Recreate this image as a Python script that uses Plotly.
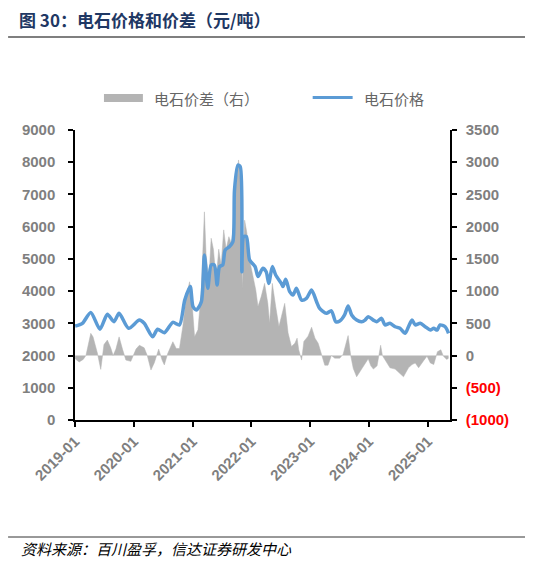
import plotly.graph_objects as go

# 电石价格 (元/吨, left axis)
price_dates = [
    "2019-01-02", "2019-02-16", "2019-04-09", "2019-06-05", "2019-07-21", "2019-08-31",
    "2019-10-02", "2019-11-30", "2020-02-05", "2020-03-06", "2020-04-27", "2020-05-28",
    "2020-07-09", "2020-08-31", "2020-10-11", "2020-11-13", "2020-12-17", "2021-01-03",
    "2021-01-24", "2021-02-24", "2021-03-15", "2021-04-05", "2021-04-26", "2021-05-16",
    "2021-06-02", "2021-06-17", "2021-07-07", "2021-07-22", "2021-08-18", "2021-09-08",
    "2021-09-18", "2021-10-09", "2021-10-24", "2021-11-03", "2021-11-14", "2021-12-01",
    "2021-12-21", "2022-01-24", "2022-02-11", "2022-03-13", "2022-04-03", "2022-04-19",
    "2022-05-11", "2022-06-01", "2022-07-06", "2022-07-16", "2022-08-02", "2022-08-27",
    "2022-09-17", "2022-10-08", "2022-11-09", "2022-12-09", "2023-01-10", "2023-02-10",
    "2023-03-01", "2023-04-12", "2023-05-13", "2023-06-09", "2023-07-04", "2023-08-03",
    "2023-08-25", "2023-09-16", "2023-10-17", "2023-11-17", "2023-12-08", "2023-12-28",
    "2024-01-29", "2024-02-19", "2024-03-20", "2024-04-10", "2024-05-11", "2024-06-12",
    "2024-07-12", "2024-08-13", "2024-09-03", "2024-09-25", "2024-10-15", "2024-11-15",
    "2024-12-16", "2025-01-17", "2025-02-07", "2025-02-28", "2025-03-18", "2025-04-19",
    "2025-05-10",
]
price_values = [
    2917, 3000, 3340, 2820, 3280, 3050,
    3310, 2845, 3100, 3000, 2585, 2815,
    2710, 3030, 2950, 3720, 4140, 3520,
    3410, 3670, 5120, 4090, 4810, 4810,
    4190, 4760, 4810, 5275, 5380, 5530,
    7140, 7910, 7860, 4600, 5690, 5690,
    4965, 4760, 4450, 4710, 4600, 4240,
    4760, 4500, 4240, 4140, 4365, 3985,
    3880, 4085, 3720, 3775, 4035, 3670,
    3465, 3310, 3390, 3050, 3070, 3260,
    3540, 3260, 3100, 3050, 3100, 3205,
    3100, 3050, 3155, 2950, 3000, 2895,
    2845, 2690, 2895, 3100, 2950, 3000,
    2895, 2790, 2845, 2790, 2950, 2895,
    2690,
]

# 电石价差 (元/吨, right axis)
spread_dates = [
    "2019-01-02", "2019-01-27", "2019-02-21", "2019-03-10", "2019-04-09", "2019-04-23",
    "2019-05-20", "2019-06-10", "2019-06-30", "2019-07-21", "2019-08-11", "2019-08-26",
    "2019-09-12", "2019-10-02", "2019-10-23", "2019-11-13", "2019-12-14", "2020-01-15",
    "2020-02-05", "2020-03-06", "2020-03-25", "2020-04-17", "2020-05-08", "2020-06-04",
    "2020-06-25", "2020-07-09", "2020-07-30", "2020-08-31", "2020-09-21", "2020-10-11",
    "2020-11-01", "2020-11-22", "2020-12-13", "2020-12-30", "2021-01-13", "2021-02-03",
    "2021-02-24", "2021-03-15", "2021-03-25", "2021-04-11", "2021-04-26", "2021-05-10",
    "2021-05-27", "2021-06-12", "2021-06-27", "2021-07-13", "2021-07-28", "2021-08-14",
    "2021-08-29", "2021-09-12", "2021-09-29", "2021-10-13", "2021-10-26", "2021-11-06",
    "2021-11-20", "2021-12-04", "2021-12-21", "2022-01-11", "2022-01-28", "2022-02-11",
    "2022-03-03", "2022-03-24", "2022-04-13", "2022-04-24", "2022-05-11", "2022-06-01",
    "2022-06-21", "2022-07-06", "2022-07-27", "2022-08-17", "2022-09-07", "2022-09-28",
    "2022-10-12", "2022-10-22", "2022-11-09", "2022-11-23", "2022-12-19", "2023-01-10",
    "2023-01-31", "2023-02-20", "2023-03-12", "2023-04-02", "2023-04-22", "2023-05-13",
    "2023-06-03", "2023-07-04", "2023-07-25", "2023-08-15", "2023-08-25", "2023-09-10",
    "2023-09-26", "2023-10-17", "2023-11-07", "2023-12-08", "2023-12-28", "2024-01-13",
    "2024-01-29", "2024-02-21", "2024-03-14", "2024-03-25", "2024-04-10", "2024-05-11",
    "2024-06-12", "2024-07-12", "2024-08-03", "2024-09-03", "2024-09-25", "2024-10-15",
    "2024-11-05", "2024-12-06", "2024-12-27", "2025-01-17", "2025-02-07", "2025-03-02",
    "2025-03-23", "2025-04-08", "2025-04-29", "2025-05-10",
]
spread_values = [
    -50, -100, -60, 0, 345, 290,
    40, -215, 170, 240, 120, 0,
    100, 290, 100, -70, -90, 100,
    160, 120, 0, -225, -110, 100,
    -70, -145, 30, 215, 110, 110,
    450, 910, 1145, 760, 290, 400,
    1015, 2230, 1585, 1150, 1820, 1650,
    1170, 1650, 1400, 1950, 1650, 1845,
    1740, 2000, 2670, 3035, 2670, 1040,
    2100, 1900, 1480, 1230, 1020, 760,
    915, 1120, 810, 500, 1120, 760,
    450, 600, 810, 350, 140, 190,
    270, 90, -70, 220, 300, 440,
    270, 190, 30, -150, -150, 0,
    -40, -40, 20, 240, 310, 0,
    -200, -330, -250, -120, -50, -160,
    -210, -160, 160, 0, -60, -190,
    -210, -275, -330, -190, -140, -115,
    -190, -80, -10, -115, -140, 60,
    90, -10, -60, -40,
]

left_ticks = [0, 1000, 2000, 3000, 4000, 5000, 6000, 7000, 8000, 9000]
right_ticks = [-1000, -500, 0, 500, 1000, 1500, 2000, 2500, 3000, 3500]
right_labels = ["(1000)", "(500)", "0", "500", "1000", "1500", "2000", "2500", "3000", "3500"]
x_ticks = ["2019-01-01", "2020-01-01", "2021-01-01", "2022-01-01", "2023-01-01", "2024-01-01", "2025-01-01"]

grey_txt = "#7f7f7f"
red_txt = "#ff0000"
area_color = "#b4b4b4"
line_color = "#5b9bd5"

right_ticktext = [
    f"<span style='color:{red_txt}'>{t}</span>" if t.startswith("(") else t
    for t in right_labels
]

# figure sits 8px inside the page (body margin), so work in figure pixels
W, H = 525, 553
PL, PR, PT, PB = 67, 442.5, 122, 412
pw, ph = PR - PL, PB - PT


def px(x):
    return (x - PL) / pw


def py(y):
    return (PB - y) / ph


fig = go.Figure()

# spread on the primary axis (drawn underneath), price on the overlaying axis (on top)
fig.add_trace(go.Scatter(
    x=spread_dates, y=spread_values, name="电石价差（右）", yaxis="y",
    mode="lines", fill="tozeroy", fillcolor=area_color,
    line=dict(color=area_color, width=0.5),
))
fig.add_trace(go.Scatter(
    x=price_dates, y=price_values, name="电石价格", yaxis="y2",
    mode="lines", line=dict(color=line_color, width=3.5, shape="spline", smoothing=0.7),
))

tick_font = dict(family="Liberation Sans, Arial", size=15, color=grey_txt, weight="bold")
legend_font = dict(family="Noto Sans CJK SC", size=15, color="#666666")

fig.update_layout(
    width=W, height=H,
    margin=dict(l=PL, r=W - PR, t=PT, b=H - PB),
    paper_bgcolor="white", plot_bgcolor="white",
    showlegend=False,
    xaxis=dict(
        type="date", range=["2019-01-01", "2025-05-19"],
        tickvals=x_ticks, tickformat="%Y-%m", tickangle=-45,
        ticks="outside", ticklen=5, tickcolor="black", tickwidth=1.5,
        showline=True, linecolor="black", linewidth=1.5,
        showgrid=False, zeroline=False, tickfont=tick_font,
    ),
    yaxis=dict(
        range=[-1000, 3500], tickvals=right_ticks, ticktext=right_ticktext,
        side="right",
        ticks="outside", ticklen=5, tickcolor="black", tickwidth=1.5,
        showline=True, linecolor="black", linewidth=1.5,
        showgrid=False, zeroline=False, tickfont=tick_font, ticklabelstandoff=6,
    ),
    yaxis2=dict(
        range=[0, 9000], tickvals=left_ticks,
        overlaying="y", side="left",
        ticks="outside", ticklen=5, tickcolor="black", tickwidth=1.5,
        showline=True, linecolor="black", linewidth=1.5,
        showgrid=False, zeroline=False, tickfont=tick_font, ticklabelstandoff=10,
    ),
    shapes=[
        # header and footer rules
        dict(type="line", xref="paper", yref="paper",
             x0=px(0), x1=px(520), y0=py(29), y1=py(29),
             line=dict(color="#7f7f7f", width=2)),
        dict(type="line", xref="paper", yref="paper",
             x0=px(0), x1=px(520), y0=py(529), y1=py(529),
             line=dict(color="#333333", width=1)),
        # legend keys
        dict(type="rect", xref="paper", yref="paper",
             x0=px(96), x1=px(135), y0=py(94), y1=py(86),
             fillcolor=area_color, line=dict(width=0)),
        dict(type="line", xref="paper", yref="paper",
             x0=px(305), x1=px(345), y0=py(89.5), y1=py(89.5),
             line=dict(color=line_color, width=3)),
    ],
    annotations=[
        dict(text="<b>图 30：电石价格和价差（元/吨）</b>", xref="paper", yref="paper",
             x=px(9), y=py(11), xanchor="left", yanchor="middle",
             showarrow=False, font=dict(family="Noto Sans CJK SC", size=17, color="#1f3864")),
        dict(text="电石价差（右）", xref="paper", yref="paper",
             x=px(144), y=py(90), xanchor="left", yanchor="middle",
             showarrow=False, font=legend_font),
        dict(text="电石价格", xref="paper", yref="paper",
             x=px(354), y=py(90), xanchor="left", yanchor="middle",
             showarrow=False, font=legend_font),
        dict(text="<i>资料来源：百川盈孚，信达证券研发中心</i>", xref="paper", yref="paper",
             x=px(11), y=py(540), xanchor="left", yanchor="middle",
             showarrow=False, font=dict(family="Noto Sans CJK SC", size=15, color="#000000")),
    ],
)

fig.write_html("out.html")
